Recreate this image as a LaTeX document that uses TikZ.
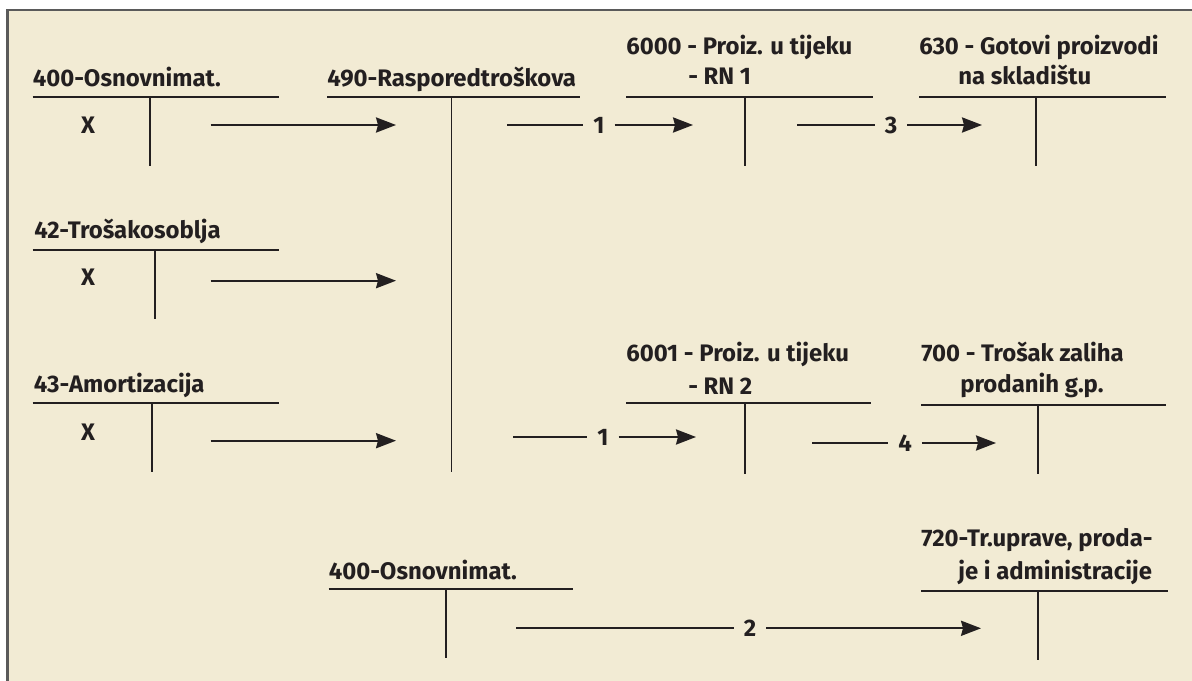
\documentclass[tikz,border=0pt]{standalone}
\usepackage{fontspec}
\setmainfont{Fira Sans}
\newfontfamily\kontofont{Fira Sans}
\usepackage{tikz}
\usetikzlibrary{arrows.meta}

\definecolor{papir}{HTML}{F2EBD4}
\definecolor{okvir}{HTML}{5A5A5A}
\definecolor{tinta}{HTML}{231F20}

\begin{document}
\begin{tikzpicture}[x=0.025cm,y=-0.025cm,
		naslov/.style={anchor=base west,inner sep=0pt,text=tinta,
			font=\kontofont\bfseries\fontsize{17}{20}\selectfont},
		oznaka/.style={inner xsep=7pt,inner ysep=1pt,text=tinta,
			font=\kontofont\bfseries\fontsize{17}{20}\selectfont},
		crta/.style={line width=1.2pt,draw=tinta},
		strelica/.style={crta,-{Stealth[length=0.5cm,width=0.38cm,inset=0.05cm]}}]

	\useasboundingbox (0,0) rectangle (1192,681);
	\fill[papir] (7.5,10) rectangle (1192,681);
	\draw[okvir,line width=2pt] (7.5,681) -- (7.5,10) -- (1192,10);

	% konta
	\node[naslov] (t400) at (32.5,87) {400-Osnovnimat.};
	\draw[crta] (32.5,96.7) -- (279,96.7);
	\draw[crta] (150,96.7) -- (150,165.7);
	\node[oznaka] (x400) at (88,125) {X};

	\node[naslov] (t490) at (327,87) {490-Rasporedtroškova};
	\draw[crta] (327,96.7) -- (580,96.7);
	\draw[crta] (451.5,96.7) -- (451.5,472);

	\node[naslov] (t6000) at (626,55) {6000 - Proiz. u tijeku};
	\node[naslov] (t6000b) at (688,85) {- RN 1};
	\draw[crta] (626,96.7) -- (873,96.7);
	\draw[crta] (745,96.7) -- (745,165.7);

	\node[naslov] (t630) at (919,55) {630 - Gotovi proizvodi};
	\node[naslov] (t630b) at (958,85) {na skladištu};
	\draw[crta] (919,96.7) -- (1166,96.7);
	\draw[crta] (1036,96.7) -- (1036,165.7);

	\node[naslov] (t42) at (34,239) {42-Trošakosoblja};
	\draw[crta] (32.5,250) -- (279,250);
	\draw[crta] (155,250) -- (155,319);
	\node[oznaka] (x42) at (88,277) {X};

	\node[naslov] (t43) at (33.7,393) {43-Amortizacija};
	\draw[crta] (32.5,402.7) -- (279,402.7);
	\draw[crta] (152,402.7) -- (152,472);
	\node[oznaka] (x43) at (88,432) {X};

	\node[naslov] (t6001) at (626,362) {6001 - Proiz. u tijeku};
	\node[naslov] (t6001b) at (688,395) {- RN 2};
	\draw[crta] (626,402.7) -- (871,402.7);
	\draw[crta] (745,402.7) -- (745,474);

	\node[naslov] (t700) at (921,362) {700 - Trošak zaliha};
	\node[naslov] (t700b) at (960,393) {prodanih g.p.};
	\draw[crta] (921,405) -- (1166,405);
	\draw[crta] (1038,405) -- (1038,474);

	\node[naslov] (t400b) at (328.5,580) {400-Osnovnimat.};
	\draw[crta] (328.5,589.3) -- (573.4,589.3);
	\draw[crta] (446.3,589.3) -- (446.3,658.3);

	\node[naslov] (t720) at (921,547) {720-Tr.uprave, proda-};
	\node[naslov] (t720b) at (958,580) {je i administracije};
	\draw[crta] (921,590.7) -- (1168,590.7);
	\draw[crta] (1038,590.7) -- (1038,660);

	% knjizenja
	\coordinate (s400) at (210.5,125);
	\coordinate (e400) at (396,125);
	\draw[strelica] (s400) -- (e400);
	\coordinate (s42) at (210.5,280.7);
	\coordinate (e42) at (396,280.7);
	\draw[strelica] (s42) -- (e42);
	\coordinate (s43) at (210.5,440.7);
	\coordinate (e43) at (396,440.7);
	\draw[strelica] (s43) -- (e43);

	\coordinate (s1a) at (507,125);
	\node[oznaka] (n1a) at (599,125) {1};
	\coordinate (e1a) at (693,125);
	\draw[crta] (s1a) -- (n1a);
	\draw[strelica] (n1a) -- (e1a);

	\coordinate (s3) at (797,125);
	\node[oznaka] (n3) at (891,125) {3};
	\coordinate (e3) at (982,125);
	\draw[crta] (s3) -- (n3);
	\draw[strelica] (n3) -- (e3);

	\coordinate (s1b) at (513,437);
	\node[oznaka] (n1b) at (603,437) {1};
	\coordinate (e1b) at (696,437);
	\draw[crta] (s1b) -- (n1b);
	\draw[strelica] (n1b) -- (e1b);

	\coordinate (s4) at (812,443);
	\node[oznaka] (n4) at (905,443) {4};
	\coordinate (e4) at (996,443);
	\draw[crta] (s4) -- (n4);
	\draw[strelica] (n4) -- (e4);

	\coordinate (s2) at (516,628.3);
	\node[oznaka] (n2) at (750,628.3) {2};
	\coordinate (e2) at (981,628.3);
	\draw[crta] (s2) -- (n2);
	\draw[strelica] (n2) -- (e2);

\end{tikzpicture}
\end{document}
